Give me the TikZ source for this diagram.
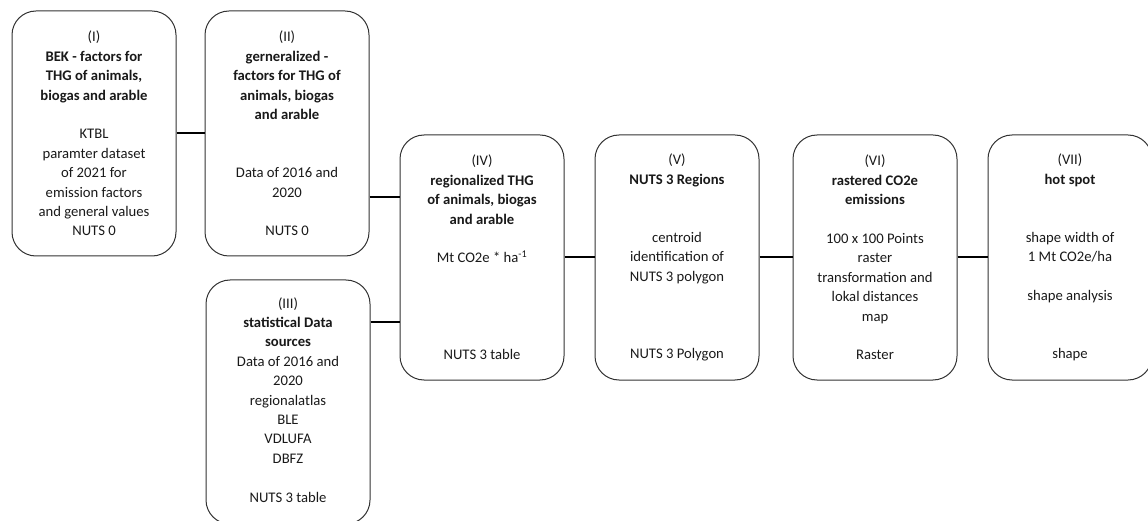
\documentclass[tikz,border=0pt]{standalone}
\usepackage{fontspec}
\setmainfont{Carlito}
\usetikzlibrary{calc}
\begin{document}
\begin{tikzpicture}[x=1pt,y=1pt,
  stage/.style={draw=black!80, line width=1pt, rounded corners=24pt,
    minimum width=164pt, minimum height=245pt, align=center, inner sep=0pt,
    font=\fontsize{14.67}{19.4}\selectfont, text=black!90},
  link/.style={draw=black, line width=2pt}]
\useasboundingbox (0,0) rectangle (1148,-521);
\begin{scope}
\clip (0,0) rectangle (1148,-521);
% upper left: inputs at national level
\node[stage] (b1) at (94,-133.5) {(I)\\ \textbf{BEK - factors for}\\ \textbf{THG of animals,}\\ \textbf{biogas and arable}\\[19.4pt]
  KTBL\\ paramter dataset\\ of 2021 for\\ emission factors\\ and general values\\ NUTS 0};
\node[stage] (b2) at (287,-133.5) {(II)\\ \textbf{gerneralized -}\\ \textbf{factors for THG of}\\ \textbf{animals, biogas}\\ \textbf{and arable}\\[38.8pt]
  Data of 2016 and\\ 2020\\[19.4pt] NUTS 0};
% lower left: regional statistics
\node[stage, minimum height=244pt] (b3) at (288,-402) {(III)\\ \textbf{statistical Data}\\ \textbf{sources}\\
  Data of 2016 and\\ 2020\\ regionalatlas\\ BLE\\ VDLUFA\\ DBFZ\\[19.4pt] NUTS 3 table\\[-15pt]\mbox{}};
% processing chain
\node[stage] (b4) at (482,-257.5) {(IV)\\ \textbf{regionalized THG}\\ \textbf{of animals, biogas}\\ \textbf{and arable}\\[19.4pt]
  Mt CO2e * ha\textsuperscript{-1}\\[77.6pt] NUTS 3 table};
\node[stage] (b5) at (677,-257.5) {(V)\\ \textbf{NUTS 3 Regions}\\[38.8pt]
  centroid\\ identification of\\ NUTS 3 polygon\\[58.2pt] NUTS 3 Polygon};
\node[stage] (b6) at (875,-257.5) {(VI)\\ \textbf{rastered CO2e}\\ \textbf{emissions}\\[19.4pt]
  100 x 100 Points\\ raster\\ transformation and\\ lokal distances\\ map\\[19.4pt] Raster};
\node[stage] (b7) at (1070,-257.5) {(VII)\\ \textbf{hot spot}\\[38.8pt]
  shape width of\\ 1 Mt CO2e/ha\\[19.4pt] shape analysis\\[38.8pt] shape};
\end{scope}
% connectors
\draw[link] ($(b1.east)+(0,0.5)$) coordinate (c12) -- (c12 -| b2.west);
\draw[link] ($(b2.east)+(0,-63.5)$) coordinate (c24) -- (c24 -| b4.west);
\draw[link] ($(b3.east)+(0,80)$) coordinate (c34) -- (c34 -| b4.west);
\draw[link] (b4.east) -- (b5.west);
\draw[link] (b5.east) -- (b6.west);
\draw[link] (b6.east) -- (b7.west);
\end{tikzpicture}
\end{document}
